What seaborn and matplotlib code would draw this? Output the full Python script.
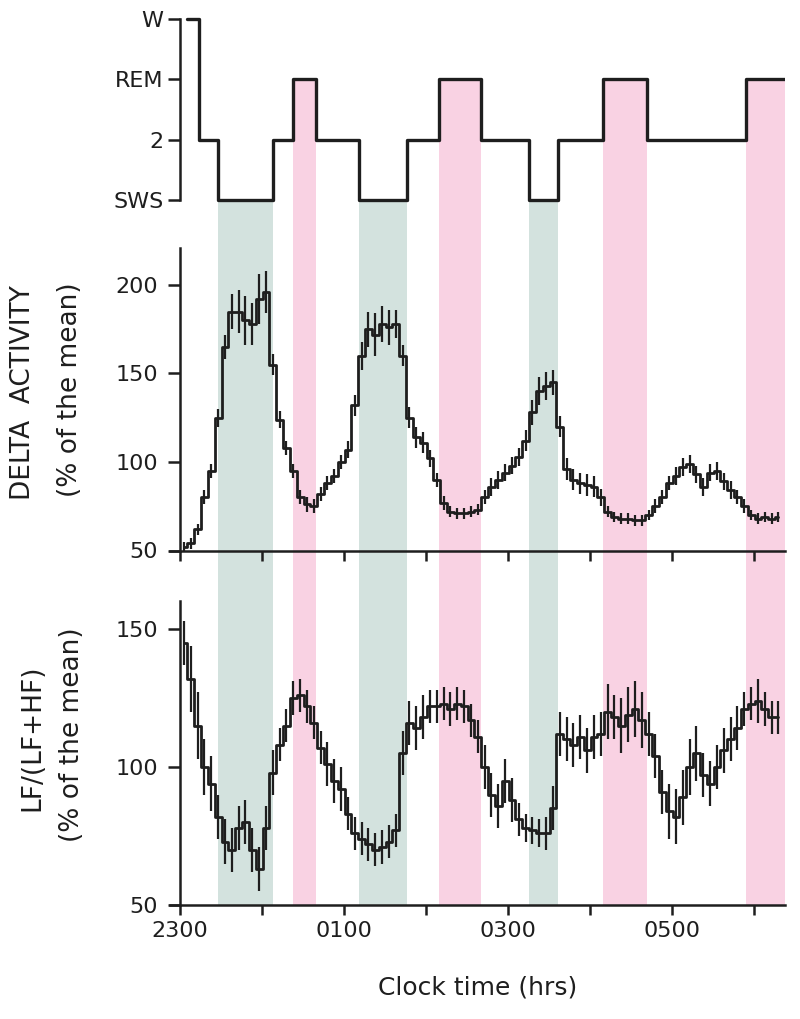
import numpy as np
import pandas as pd
import matplotlib
matplotlib.use("Agg")
import matplotlib.pyplot as plt
import seaborn as sns

# ---------------- data ----------------
stage_names = ["SWS", "2", "REM", "W"]          # bottom -> top
hyp_bounds = [0.085, 0.23, 0.46, 1.13, 1.38, 1.66, 2.18, 2.77, 3.16,
              3.67, 4.26, 4.61, 5.16, 5.70, 6.91, 7.38]   # hours after 2300
hyp_stages = ["W", "2", "SWS", "2", "REM", "2", "SWS", "2", "REM",
              "2", "SWS", "2", "REM", "2", "REM"]

delta_mean = [52, 54, 62, 80, 95, 125, 165, 185, 185, 180, 178, 192,
              196, 155, 124, 108, 95, 80, 76, 75, 82, 88, 92, 100,
              107, 132, 160, 175, 172, 178, 176, 178, 160, 125, 114, 111,
              102, 90, 77, 72, 71, 71, 72, 73, 80, 86, 90, 94,
              98, 103, 112, 128, 140, 143, 145, 120, 96, 90, 88, 87,
              86, 80, 72, 69, 68, 68, 67, 67, 70, 75, 80, 88,
              92, 97, 99, 93, 86, 94, 95, 89, 84, 80, 75, 70,
              68, 69, 68, 69]
delta_err = [3, 3, 3, 4, 4, 5, 7, 10, 12, 14, 12, 14,
             12, 6, 5, 4, 4, 4, 4, 4, 4, 4, 4, 4,
             5, 6, 8, 10, 12, 10, 10, 8, 6, 6, 6, 6,
             5, 4, 4, 3, 3, 3, 3, 3, 4, 5, 5, 5,
             5, 5, 6, 7, 8, 8, 7, 6, 6, 6, 6, 6,
             6, 5, 3, 3, 3, 3, 3, 3, 3, 4, 4, 4,
             5, 5, 5, 5, 5, 5, 5, 5, 5, 4, 4, 3,
             3, 3, 3, 3]

lf_mean = [145, 132, 115, 100, 94, 82, 73, 70, 78, 80, 70, 63,
           78, 98, 108, 115, 125, 126, 122, 116, 107, 101, 95, 92,
           83, 76, 74, 72, 70, 71, 73, 77, 105, 116, 114, 118,
           122, 122, 123, 121, 123, 122, 117, 111, 100, 90, 86, 95,
           88, 81, 78, 77, 76, 76, 85, 112, 110, 108, 111, 106,
           111, 112, 120, 118, 115, 119, 121, 117, 112, 104, 91, 84,
           82, 89, 100, 105, 97, 94, 100, 106, 110, 114, 121, 123,
           124, 121, 118, 118]
lf_err = [8, 12, 12, 10, 10, 8, 8, 8, 8, 8, 8, 8,
          8, 8, 6, 6, 6, 6, 6, 6, 6, 8, 8, 8,
          6, 6, 6, 6, 6, 6, 6, 6, 8, 8, 8, 8,
          6, 6, 6, 6, 6, 6, 6, 6, 8, 8, 8, 8,
          8, 6, 5, 5, 5, 6, 8, 8, 8, 8, 8, 8,
          8, 8, 10, 8, 10, 10, 10, 10, 8, 8, 8, 10,
          10, 10, 10, 10, 8, 8, 8, 8, 8, 8, 6, 6,
          8, 6, 6, 6]

x_ticks = [0, 1, 2, 3, 4, 5, 6, 7]
x_tick_labels = ["2300", "", "0100", "", "0300", "", "0500", ""]
delta_ticks = [50, 100, 150, 200]
lf_ticks = [50, 100, 150]

# sampling grid: one value every 5 minutes
time_h = [0.05 + i / 12 for i in range(len(delta_mean))]

# ---------------- style ----------------
sns.set_style("ticks")
plt.rcParams["font.family"] = ["DejaVu Sans"]
INK = "#1e1e1e"
SWS_C = "#d3e2de"
REM_C = "#f9d2e3"
LW_SP = 1.8

W, H = 800, 1019
fig = plt.figure(figsize=(W / 100, H / 100), dpi=100)


def rect(l, t, r, b):
    return [l / W, 1 - b / H, (r - l) / W, (b - t) / H]


XLIM = (-0.12, 7.38)
ax_h = fig.add_axes(rect(170, 13, 785, 206))
ax_d = fig.add_axes(rect(170, 247.8, 785, 550.5))
ax_l = fig.add_axes(rect(170, 601.4, 785, 905))
bg = fig.add_axes([170 / W, 0, 615 / W, 1])
bg.set_zorder(-5)
bg.set_xlim(XLIM)
bg.set_ylim(0, 1)
bg.axis("off")

HYP_YLIM = (-0.1, 3.1)
level = {s: i for i, s in enumerate(stage_names)}

# shaded bands (SWS and REM epochs) running through all panels
ph = ax_h.get_position()
pl = ax_l.get_position()
bottom_frac = pl.y0
for s, e, st in zip(hyp_bounds[:-1], hyp_bounds[1:], hyp_stages):
    if st in ("SWS", "REM"):
        top = ph.y0 + (level[st] - HYP_YLIM[0]) / (HYP_YLIM[1] - HYP_YLIM[0]) * ph.height
        bg.fill_between([s, e], [bottom_frac] * 2, [top] * 2,
                        color=SWS_C if st == "SWS" else REM_C, lw=0)

for ax in (ax_h, ax_d, ax_l):
    ax.set_facecolor("none")
    ax.set_xlim(XLIM)
    for sp in ("top", "right"):
        ax.spines[sp].set_visible(False)
    ax.spines["left"].set_position(("data", 0))
    for sp in ("left", "bottom"):
        ax.spines[sp].set_linewidth(LW_SP)
        ax.spines[sp].set_color(INK)
    ax.tick_params(axis="both", direction="out", width=LW_SP, color=INK,
                   labelsize=16, labelcolor=INK)

# ---------------- hypnogram ----------------
hyp_levels = [level[s] for s in hyp_stages] + [level[hyp_stages[-1]]]
sns.lineplot(x=hyp_bounds, y=hyp_levels, ax=ax_h, drawstyle="steps-post",
             color=INK, lw=2.4, estimator=None, sort=False)
ax_h.set_ylim(HYP_YLIM)
ax_h.spines["bottom"].set_visible(False)
ax_h.spines["left"].set_bounds(0, 3)
ax_h.set_yticks(range(4))
ax_h.set_yticklabels(stage_names)
ax_h.set_xticks([])
ax_h.tick_params(axis="y", length=8.6, pad=3)

# ---------------- delta activity ----------------
df_d = pd.DataFrame({"t": time_h, "v": delta_mean, "e": delta_err})
ax_d.vlines(df_d["t"], df_d["v"] - df_d["e"], df_d["v"] + df_d["e"],
            color=INK, lw=1.6)
sns.lineplot(data=df_d, x="t", y="v", ax=ax_d, drawstyle="steps-mid",
             color=INK, lw=2.0, estimator=None)
ax_d.set_ylim(50, 221)
ax_d.set_yticks(delta_ticks)
ax_d.set_xticks(x_ticks)
ax_d.set_xticklabels([""] * len(x_ticks))
ax_d.tick_params(axis="y", length=8.6, pad=7)
ax_d.tick_params(axis="x", length=7.5)
ax_d.set_xlabel("")
ax_d.set_ylabel("")

# ---------------- LF/(LF+HF) ----------------
df_l = pd.DataFrame({"t": time_h, "v": lf_mean, "e": lf_err})
ax_l.vlines(df_l["t"], df_l["v"] - df_l["e"], df_l["v"] + df_l["e"],
            color=INK, lw=1.6)
sns.lineplot(data=df_l, x="t", y="v", ax=ax_l, drawstyle="steps-mid",
             color=INK, lw=2.0, estimator=None)
ax_l.set_ylim(50, 160)
ax_l.set_yticks(lf_ticks)
ax_l.set_xticks(x_ticks)
ax_l.set_xticklabels(x_tick_labels)
ax_l.tick_params(axis="y", length=8.6, pad=7)
ax_l.tick_params(axis="x", length=7.5, pad=4)
ax_l.set_xlabel("")
ax_l.set_ylabel("")

# ---------------- labels ----------------
def ftext(xp, yp, s, **kw):
    fig.text(xp / W, 1 - yp / H, s, ha="center", va="center", color=INK, **kw)

ftext(23, 393, "DELTA  ACTIVITY", rotation=90, fontsize=19)
ftext(70, 390, "(% of the mean)", rotation=90, fontsize=19)
ftext(32, 738, "LF/(LF+HF)", rotation=90, fontsize=19)
ftext(72, 735, "(% of the mean)", rotation=90, fontsize=19)
ftext(478, 988, "Clock time (hrs)", fontsize=18)

fig.savefig("out.png", dpi=100)
